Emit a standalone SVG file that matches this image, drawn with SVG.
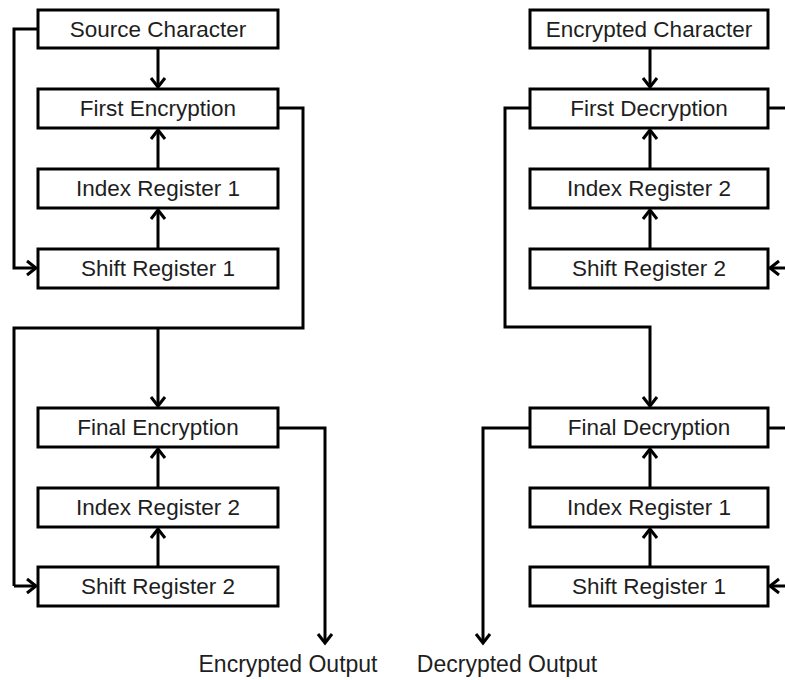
<svg xmlns="http://www.w3.org/2000/svg" width="785" height="680" viewBox="0 0 785 680">
<style>
.box{fill:#fff;stroke:#000;stroke-width:3}
.lbl{font-family:"Liberation Sans",Arial,sans-serif;font-size:22.5px;fill:#1e1e1e;text-anchor:middle}
.out{font-family:"Liberation Sans",Arial,sans-serif;font-size:23px;fill:#1e1e1e;text-anchor:middle}
.ln{fill:none;stroke:#000;stroke-width:3}
.ar{marker-end:url(#ah)}
</style>
<defs>
<marker id="ah" markerUnits="userSpaceOnUse" markerWidth="20" markerHeight="20" viewBox="-12 -10 14 20" refX="0" refY="0" orient="auto">
<path d="M-9,-7 L0,0 L-9,7" fill="none" stroke="#000" stroke-width="3"/>
</marker>
</defs>
<rect width="785" height="680" fill="#fff"/>
<g id="connectors">
<path class="ln ar" d="M158,48 V87"/>
<path class="ln ar" d="M158,169 V130"/>
<path class="ln ar" d="M158,249 V210"/>
<path class="ln ar" d="M38,29 H14 V268 H36"/>
<path class="ln" d="M278,108 H303 V328 H14 V586"/>
<path class="ln ar" d="M14,586 H36"/>
<path class="ln ar" d="M158,328 V406"/>
<path class="ln ar" d="M158,488 V449"/>
<path class="ln ar" d="M158,567 V529"/>
<path class="ln ar" d="M278,428 H325 V643"/>
<path class="ln ar" d="M650,48 V87"/>
<path class="ln ar" d="M650,169 V130"/>
<path class="ln ar" d="M650,249 V210"/>
<path class="ln" d="M768,108 H790"/>
<path class="ln ar" d="M790,268 H770"/>
<path class="ln ar" d="M530,108 H505 V327 H650 V406"/>
<path class="ln ar" d="M650,488 V449"/>
<path class="ln ar" d="M650,567 V529"/>
<path class="ln" d="M768,428 H790"/>
<path class="ln ar" d="M790,586 H770"/>
<path class="ln ar" d="M530,428 H483 V643"/>
</g>
<g id="n-source"><rect class="box" x="38" y="10" width="240" height="38"/><text class="lbl" x="158" y="37">Source Character</text></g>
<g id="n-first-enc"><rect class="box" x="38" y="89" width="240" height="39"/><text class="lbl" x="158" y="116">First Encryption</text></g>
<g id="n-idx1-l"><rect class="box" x="38" y="169" width="240" height="39"/><text class="lbl" x="158" y="196">Index Register 1</text></g>
<g id="n-shift1-l"><rect class="box" x="38" y="249" width="240" height="39"/><text class="lbl" x="158" y="276">Shift Register 1</text></g>
<g id="n-final-enc"><rect class="box" x="38" y="408" width="240" height="39"/><text class="lbl" x="158" y="435">Final Encryption</text></g>
<g id="n-idx2-l"><rect class="box" x="38" y="488" width="240" height="39"/><text class="lbl" x="158" y="515">Index Register 2</text></g>
<g id="n-shift2-l"><rect class="box" x="38" y="567" width="240" height="39"/><text class="lbl" x="158" y="594">Shift Register 2</text></g>
<g id="n-enc-out"><text class="out" x="288" y="672">Encrypted Output</text></g>
<g id="n-enc-char"><rect class="box" x="530" y="10" width="238" height="38"/><text class="lbl" x="649" y="37">Encrypted Character</text></g>
<g id="n-first-dec"><rect class="box" x="530" y="89" width="238" height="39"/><text class="lbl" x="649" y="116">First Decryption</text></g>
<g id="n-idx2-r"><rect class="box" x="530" y="169" width="238" height="39"/><text class="lbl" x="649" y="196">Index Register 2</text></g>
<g id="n-shift2-r"><rect class="box" x="530" y="249" width="238" height="39"/><text class="lbl" x="649" y="276">Shift Register 2</text></g>
<g id="n-final-dec"><rect class="box" x="530" y="408" width="238" height="39"/><text class="lbl" x="649" y="435">Final Decryption</text></g>
<g id="n-idx1-r"><rect class="box" x="530" y="488" width="238" height="39"/><text class="lbl" x="649" y="515">Index Register 1</text></g>
<g id="n-shift1-r"><rect class="box" x="530" y="567" width="238" height="39"/><text class="lbl" x="649" y="594">Shift Register 1</text></g>
<g id="n-dec-out"><text class="out" x="507" y="672">Decrypted Output</text></g>
</svg>
